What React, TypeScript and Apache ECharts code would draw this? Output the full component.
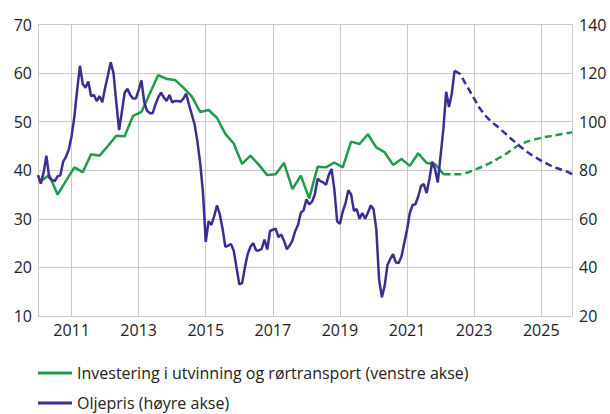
import React, { useEffect, useRef } from "react";
import * as echarts from "echarts";

const START_YEAR = 2010;
const END_YEAR = 2025;

// Monthly categories Jan 2010 .. Dec 2025
const months: string[] = [];
for (let y = START_YEAR; y <= END_YEAR; y++) {
  for (let m = 1; m <= 12; m++) months.push(`${y}-${String(m).padStart(2, "0")}`);
}

// Investment (left axis), quarterly, plotted at mid-quarter month; 2010Q1..2022Q1
const investActual = [
  37.8, 39.0, 35.0, 37.8, 40.6, 39.6, 43.3, 43.0, 45.0, 47.1, 47.0, 51.2, 52.0,
  55.8, 59.6, 58.8, 58.6, 57.0, 55.2, 52.0, 52.4, 50.8, 47.5, 45.5, 41.3, 43.0,
  41.1, 39.0, 39.2, 41.5, 36.1, 38.9, 34.2, 40.7, 40.6, 41.6, 40.6, 45.9, 45.4,
  47.4, 44.7, 43.7, 41.1, 42.3, 40.9, 43.5, 41.5, 41.3, 39.2,
];
// Investment projection, 2022Q1..2025Q4 (quarterly)
const investProjection = [
  39.2, 39.2, 39.2, 39.6, 40.3, 41.0, 41.9, 42.9, 44.0, 45.2, 45.9, 46.4, 46.8,
  47.1, 47.4, 47.7,
];
const investEndValue = 47.8;

// Oil price (right axis), monthly Jan 2010 .. Jun 2022
const oilActual = [
  78, 74.5, 79, 86, 77, 76, 75.5, 77.5, 78, 83.5, 85.5, 88.5,
  94, 102, 113, 123, 115.5, 114, 116.5, 110.5, 111, 108.5, 110.5, 108,
  114, 119, 124.5, 120, 108, 96.5, 104, 112, 113.5, 111, 109.5, 109.5,
  113, 117, 108, 104.5, 103.5, 103.5, 107, 110, 112, 110, 108.5, 111,
  108, 108.5, 108.5, 108.2, 109.5, 111.5, 107, 103, 99, 92, 83, 71,
  50.5, 59, 57.5, 61, 65.5, 62, 56, 48.5, 49, 49.6, 47, 40,
  33, 33.5, 40, 45.5, 48.5, 50, 47, 47, 47.6, 51.5, 47.4, 55,
  55.5, 56, 52.5, 53.5, 51, 47.5, 49, 51, 55, 57.5, 62.5, 63.5,
  68, 66, 67, 70, 76.5, 75.5, 75, 74, 78, 80.5, 72, 59,
  58, 63, 66.5, 71.8, 70, 63.3, 64, 60, 62.4, 60, 62.5, 65.5,
  64, 55.8, 35, 27.7, 32.5, 41, 43.5, 45.5, 42, 41.8, 44.5, 50,
  55.5, 62.5, 65.7, 66, 69.2, 73.5, 74.3, 70.6, 76.4, 83.5, 80.5, 75,
  86, 97, 112.3, 106, 111.5, 121,
];
// Oil price projection, monthly Jun 2022 .. Dec 2025
const oilProjection = [
  121, 120.3, 119.6, 117.5, 115.5, 113.5, 111.5, 109.5, 107.5, 105.5, 104,
  102.5, 101.3, 100.2, 99.2, 98.3, 97.3, 96.3, 95.3, 94.3, 93.2, 92.2, 91.2,
  90.2, 89.3, 88.4, 87.5, 86.7, 86, 85.3, 84.6, 83.9, 83.3, 82.7, 82.1, 81.6,
  81.1, 80.7, 80.3, 79.9, 79.5, 79.0, 78.4,
];

const GREEN = "#1f9a4b";
const PURPLE = "#3d2c92";
const NAME_INV = "Investering i utvinning og rørtransport (venstre akse)";
const NAME_OIL = "Oljepris (høyre akse)";

const isOddYearStart = (idx: number) => {
  const s = months[idx];
  if (!s) return false;
  const y = parseInt(s.slice(0, 4), 10);
  return s.endsWith("-01") && y % 2 === 1;
};

export default function App() {
  const ref = useRef<HTMLDivElement>(null);
  useEffect(() => {
    if (!ref.current) return;
    const chart = echarts.init(ref.current, undefined, { renderer: "svg" });

    const invActualData = investActual.map((v, i) => [months[1 + 3 * i], v]);
    const projStart = investActual.length - 1;
    const invProjData: any[] = investProjection.map((v, i) => [months[1 + 3 * (projStart + i)], v]);
    invProjData.push([months[months.length - 1], investEndValue]);
    const oilActualData = oilActual.map((v, i) => [months[i], v]);
    const oilStart = oilActual.length - 1;
    const oilProjData = oilProjection.map((v, i) => [months[oilStart + i], v]);

    const font = "'Open Sans', 'Noto Sans', sans-serif";
    const labelColor = "#222";
    const gridColor = "#c8c8c8";

    const legendBase = {
      orient: "horizontal",
      left: 38,
      padding: 0,
      itemWidth: 34,
      itemHeight: 3,
      itemGap: 10,
      itemTextGap: 6,
      icon: "rect",
      textStyle: { fontSize: 16, color: labelColor, fontFamily: font, lineHeight: 16 },
    };

    chart.setOption({
      animation: false,
      textStyle: { fontFamily: font },
      grid: { left: 38, right: 38, top: 24.5, bottom: 98, containLabel: false },
      legend: [
        { ...legendBase, top: 365, data: [{ name: NAME_INV, itemStyle: { color: GREEN } }] },
        { ...legendBase, top: 395, data: [{ name: NAME_OIL, itemStyle: { color: PURPLE } }] },
      ],
      xAxis: {
        type: "category",
        data: months,
        boundaryGap: false,
        axisLine: { show: false },
        axisTick: { show: false },
        axisLabel: {
          interval: (idx: number) => isOddYearStart(idx),
          formatter: (v: string) => v.slice(0, 4),
          fontSize: 16,
          color: labelColor,
          margin: 6,
          fontFamily: font,
        },
        splitLine: {
          show: true,
          interval: (idx: number) => isOddYearStart(idx),
          lineStyle: { color: gridColor, width: 1 },
        },
      },
      yAxis: [
        {
          type: "value",
          min: 10,
          max: 70,
          interval: 10,
          position: "left",
          axisLine: { show: true, lineStyle: { color: gridColor, width: 1 } },
          axisTick: { show: false },
          axisLabel: { fontSize: 16, color: labelColor, margin: 6, fontFamily: font },
          splitLine: { show: true, lineStyle: { color: gridColor, width: 1 } },
        },
        {
          type: "value",
          min: 20,
          max: 140,
          interval: 20,
          position: "right",
          axisLine: { show: true, lineStyle: { color: gridColor, width: 1 } },
          axisTick: { show: false },
          axisLabel: { fontSize: 16, color: labelColor, margin: 7, fontFamily: font },
          splitLine: { show: false },
        },
      ],
      series: [
        {
          name: NAME_INV,
          type: "line",
          yAxisIndex: 0,
          data: invActualData,
          showSymbol: false,
          symbol: "none",
          lineStyle: { color: GREEN, width: 2.5 },
          itemStyle: { color: GREEN },
          z: 2,
        },
        {
          name: NAME_INV + " prognose",
          type: "line",
          yAxisIndex: 0,
          data: invProjData,
          showSymbol: false,
          symbol: "none",
          smooth: 0.3,
          lineStyle: { color: GREEN, width: 2.5, type: [7, 4] },
          itemStyle: { color: GREEN },
          z: 2,
        },
        {
          name: NAME_OIL,
          type: "line",
          yAxisIndex: 1,
          data: oilActualData,
          showSymbol: false,
          symbol: "none",
          lineStyle: { color: PURPLE, width: 2.5 },
          itemStyle: { color: PURPLE },
          z: 3,
        },
        {
          name: NAME_OIL + " prognose",
          type: "line",
          yAxisIndex: 1,
          data: oilProjData,
          showSymbol: false,
          symbol: "none",
          lineStyle: { color: PURPLE, width: 2.5, type: [7, 4] },
          itemStyle: { color: PURPLE },
          z: 3,
        },
      ],
    });
    return () => chart.dispose();
  }, []);
  return <div ref={ref} style={{ width: 610, height: 414, position: "absolute", left: 0, top: 0 }} />;
}
